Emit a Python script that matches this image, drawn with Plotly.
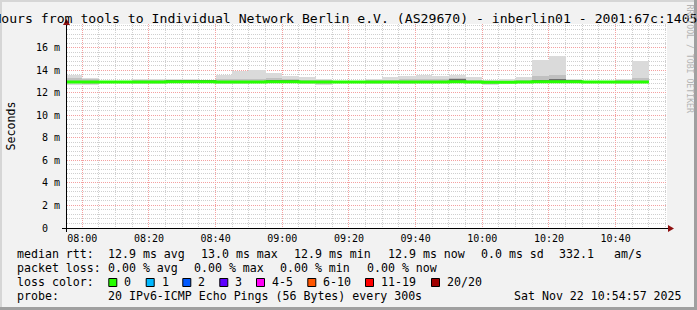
import plotly.graph_objects as go
import pandas as pd

# ---------------- data ----------------
day = "2025-11-22 "
bin_start = ["07:55", "08:00", "08:05", "08:10", "08:15", "08:20", "08:25", "08:30", "08:35",
             "08:40", "08:45", "08:50", "08:55", "09:00", "09:05", "09:10", "09:15", "09:20",
             "09:25", "09:30", "09:35", "09:40", "09:45", "09:50", "09:55", "10:00", "10:05",
             "10:10", "10:15", "10:20", "10:25", "10:30", "10:35", "10:40", "10:45"]
smoke_min = [12.72, 12.72, 12.88, 12.88, 12.75, 12.75, 12.88, 12.88, 12.88, 12.75, 12.80, 12.85,
             12.85, 12.85, 12.80, 12.70, 12.90, 12.85, 12.80, 12.85, 12.80, 12.85, 12.85, 12.85,
             12.85, 12.70, 12.85, 12.85, 12.85, 12.85, 12.85, 12.90, 12.90, 12.80, 12.85]
smoke_q1 = [12.85, 12.82, 12.90, 12.90, 12.85, 12.85, 12.90, 12.90, 12.90, 12.85, 12.88, 12.88,
            12.90, 12.90, 12.88, 12.80, 12.92, 12.90, 12.88, 12.90, 12.88, 12.90, 12.90, 12.90,
            12.90, 12.82, 12.88, 12.90, 12.90, 12.90, 12.90, 12.92, 12.92, 12.88, 12.90]
median_rtt = [12.95, 12.95, 12.95, 12.95, 12.95, 12.95, 12.97, 12.97, 12.97, 12.95, 12.95, 12.95,
              12.97, 12.97, 12.95, 12.95, 12.95, 12.95, 12.95, 12.95, 12.95, 12.95, 12.95, 12.97,
              12.95, 12.93, 12.93, 12.95, 12.97, 12.97, 12.97, 12.95, 12.95, 12.95, 12.95]
smoke_core = [12.95, 12.95, 12.95, 12.95, 12.95, 12.95, 13.12, 13.12, 13.10, 12.95, 13.00, 13.00,
              13.05, 13.12, 13.00, 12.95, 12.95, 12.95, 12.95, 12.95, 13.00, 13.00, 13.02, 13.20,
              13.00, 12.93, 12.93, 13.00, 13.12, 13.18, 13.08, 12.95, 12.95, 12.95, 12.95]
smoke_q3 = [13.28, 13.22, 13.00, 13.00, 13.10, 13.10, 13.15, 13.15, 13.12, 13.25, 13.18, 13.20,
            13.30, 13.22, 13.15, 13.10, 12.98, 13.00, 13.10, 13.15, 13.20, 13.25, 13.22, 13.28,
            13.15, 13.05, 13.08, 13.15, 13.50, 13.55, 13.12, 12.98, 13.00, 13.10, 13.30]
smoke_max = [13.55, 13.30, 13.05, 13.05, 13.22, 13.20, 13.20, 13.20, 13.15, 13.55, 13.90, 14.00,
             13.75, 13.45, 13.38, 13.24, 13.02, 13.05, 13.22, 13.36, 13.45, 13.54, 13.47, 13.54,
             13.36, 13.15, 13.20, 13.40, 14.93, 15.23, 13.24, 13.02, 13.05, 13.24, 14.79]

y_tickvals = [0, 2, 4, 6, 8, 10, 12, 14, 16]
y_ticktext = ["0\u00a0\u00a0", "2\u00a0m", "4\u00a0m", "6\u00a0m", "8\u00a0m", "10\u00a0m",
              "12\u00a0m", "14\u00a0m", "16\u00a0m"]

title_text = ("Last 3 Hours from tools to Individual Network Berlin e.V. (AS29670) - "
              "inberlin01 - 2001:67c:1405")
legend_median = ["median rtt:", "12.9 ms avg", "13.0 ms max", "12.9 ms min", "12.9 ms now",
                 "0.0 ms sd", "332.1", "am/s"]
legend_loss = ["packet loss:", "0.00 % avg", "0.00 % max", "0.00 % min", "0.00 % now"]
loss_labels = ["0", "1", "2", "3", "4-5", "6-10", "11-19", "20/20"]
loss_colors = ["#26ff00", "#00b8ff", "#0059ff", "#5e00ff", "#ff00f5", "#ff5500", "#ff0000", "#a00000"]
probe_text = ["probe:", "20 IPv6-ICMP Echo Pings (56 Bytes) every 300s", "Sat Nov 22 10:54:57 2025"]

# ---------------- geometry ----------------
W, H = 697, 310
L, R, T, B = 67, 30, 24, 82
PW, PH = W - L - R, H - T - B


def xp(px):
    return (px - L) / PW


def yp(py):
    return (T + PH - py) / PH


starts = pd.to_datetime([day + s for s in bin_start])
centers = starts + pd.Timedelta(minutes=2.5)
BW = 300000  # ms

MONO = "DejaVu Sans Mono"

fig = go.Figure()


def band(lo, hi, color):
    fig.add_trace(go.Bar(x=centers, base=lo, y=[h - l for l, h in zip(lo, hi)], width=BW,
                         marker=dict(color=color, line=dict(width=0)), hoverinfo="skip",
                         showlegend=False))


band(smoke_min, smoke_max, "#dadada")
band(smoke_q1, smoke_q3, "#c0c0c0")
band(median_rtt, smoke_core, "#6e6e6e")

line_x = list(starts) + [starts[-1] + pd.Timedelta(minutes=5)]
line_y = list(median_rtt) + [median_rtt[-1]]
fig.add_trace(go.Scatter(x=line_x, y=line_y, mode="lines", line=dict(color=loss_colors[0], width=3,
                                                                         shape="hv"),
                         showlegend=False, hoverinfo="skip"))

x0 = pd.Timestamp(day + "07:55:25")
x1 = x0 + pd.Timedelta(hours=3)

fig.update_layout(
    width=W, height=H, autosize=False,
    margin=dict(l=L, r=R, t=T, b=B, pad=0),
    paper_bgcolor="#f2f2f2", plot_bgcolor="#ffffff",
    barmode="overlay", bargap=0, showlegend=False,
    font=dict(family=MONO, size=10, color="#000000"),
    xaxis=dict(range=[x0, x1], type="date", tickformat="%H:%M", tick0=day + "08:00",
               dtick=1200000, showgrid=True, gridcolor="#f4a0a0", griddash="1px,1px", gridwidth=1,
               zeroline=False, showline=False, ticks="", automargin=False, ticklabelstandoff=3,
               tickfont=dict(family=MONO, size=10, color="#000"),
               minor=dict(dtick=300000, tick0=day + "08:00", showgrid=True, gridcolor="#cfcfcf",
                          griddash="1px,1px", gridwidth=1)),
    yaxis=dict(range=[0, PH / 11.27], tickmode="array", tickvals=y_tickvals, ticktext=y_ticktext,
               showgrid=True, gridcolor="#f4a0a0", griddash="1px,1px", gridwidth=1,
               zeroline=False, showline=False, ticks="", automargin=False, ticklabelstandoff=6,
               tickfont=dict(family=MONO, size=10, color="#000"),
               minor=dict(tick0=0, dtick=0.4, showgrid=True, gridcolor="#cfcfcf",
                          griddash="1px,1px", gridwidth=1)),
)

shapes = []
# axis lines
shapes.append(dict(type="line", xref="paper", yref="paper", x0=xp(62), x1=xp(669), y0=yp(228.5),
                   y1=yp(228.5), line=dict(color="#000000", width=1), layer="above"))
shapes.append(dict(type="line", xref="paper", yref="paper", x0=xp(66.5), x1=xp(66.5), y0=yp(232),
                   y1=yp(23), line=dict(color="#000000", width=1), layer="above"))
# arrows
shapes.append(dict(type="path", xref="paper", yref="paper",
                   path=f"M {xp(668)},{yp(225)} L {xp(674)},{yp(228.5)} L {xp(668)},{yp(232)} Z",
                   fillcolor="#8e1010", line=dict(width=0), layer="above"))
shapes.append(dict(type="path", xref="paper", yref="paper",
                   path=f"M {xp(63)},{yp(25)} L {xp(66.5)},{yp(19)} L {xp(70)},{yp(25)} Z",
                   fillcolor="#8e1010", line=dict(width=0), layer="above"))
# 3D frame
shapes.append(dict(type="rect", xref="paper", yref="paper", x0=xp(0), x1=xp(W), y0=yp(2), y1=yp(0),
                   fillcolor="#d6d6d6", line=dict(width=0)))
shapes.append(dict(type="rect", xref="paper", yref="paper", x0=xp(0), x1=xp(2), y0=yp(H), y1=yp(0),
                   fillcolor="#d6d6d6", line=dict(width=0)))
shapes.append(dict(type="rect", xref="paper", yref="paper", x0=xp(0), x1=xp(W), y0=yp(H), y1=yp(H - 3),
                   fillcolor="#a0a0a0", line=dict(width=0)))
shapes.append(dict(type="rect", xref="paper", yref="paper", x0=xp(W - 3), x1=xp(W), y0=yp(H), y1=yp(0),
                   fillcolor="#a0a0a0", line=dict(width=0)))

ann = []


def text(x, ybase, s, size=11.6, color="#000000", anchor="left"):
    ann.append(dict(xref="paper", yref="paper", x=xp(x), y=yp(ybase - 4), text=s.replace(" ", "\u00a0"),
                    showarrow=False, xanchor=anchor, yanchor="middle",
                    font=dict(family=MONO, size=size, color=color), borderpad=0))


# title
ann.append(dict(xref="paper", yref="paper", x=xp(-63), y=yp(18.5), text=title_text.replace(" ", "\u00a0"),
                showarrow=False, xanchor="left", yanchor="middle", borderpad=0,
                font=dict(family=MONO, size=13.15, color="#000")))
# y-axis title
ann.append(dict(xref="paper", yref="paper", x=xp(10.5), y=yp(126), text="Seconds", textangle=-90,
                showarrow=False, xanchor="center", yanchor="middle", borderpad=0,
                font=dict(family=MONO, size=11.6, color="#000")))
# watermark
ann.append(dict(xref="paper", yref="paper", x=xp(689.5), y=yp(59), text="RRDTOOL / TOBI OETIKER".replace(" ", "\u00a0"),
                textangle=90, showarrow=False, xanchor="center", yanchor="middle", borderpad=0,
                font=dict(family=MONO, size=8.2, color="#b4b4b4")))

med_x = [16, 107.3, 200, 293.3, 387.3, 480, 558.3, 613.3]
for x, s in zip(med_x, legend_median):
    text(x, 258, s)
loss_x = [16, 107.3, 193.3, 279.3, 366]
for x, s in zip(loss_x, legend_loss):
    text(x, 272, s)
text(16, 286, "loss color:")
box_x = [108.3, 145.7, 182.3, 219.3, 256, 307.3, 365, 431]
for bx, lab, col in zip(box_x, loss_labels, loss_colors):
    shapes.append(dict(type="rect", xref="paper", yref="paper", x0=xp(bx + 0.5), x1=xp(bx + 8.5),
                       y0=yp(286.5), y1=yp(278.5), fillcolor=col, line=dict(color="#000", width=1),
                       layer="above"))
    text(bx + 15, 286, lab)
for x, s in zip([16, 107.3, 513.3], probe_text):
    text(x, 300, s)

fig.update_layout(shapes=shapes, annotations=ann)
fig.write_html("out.html")
